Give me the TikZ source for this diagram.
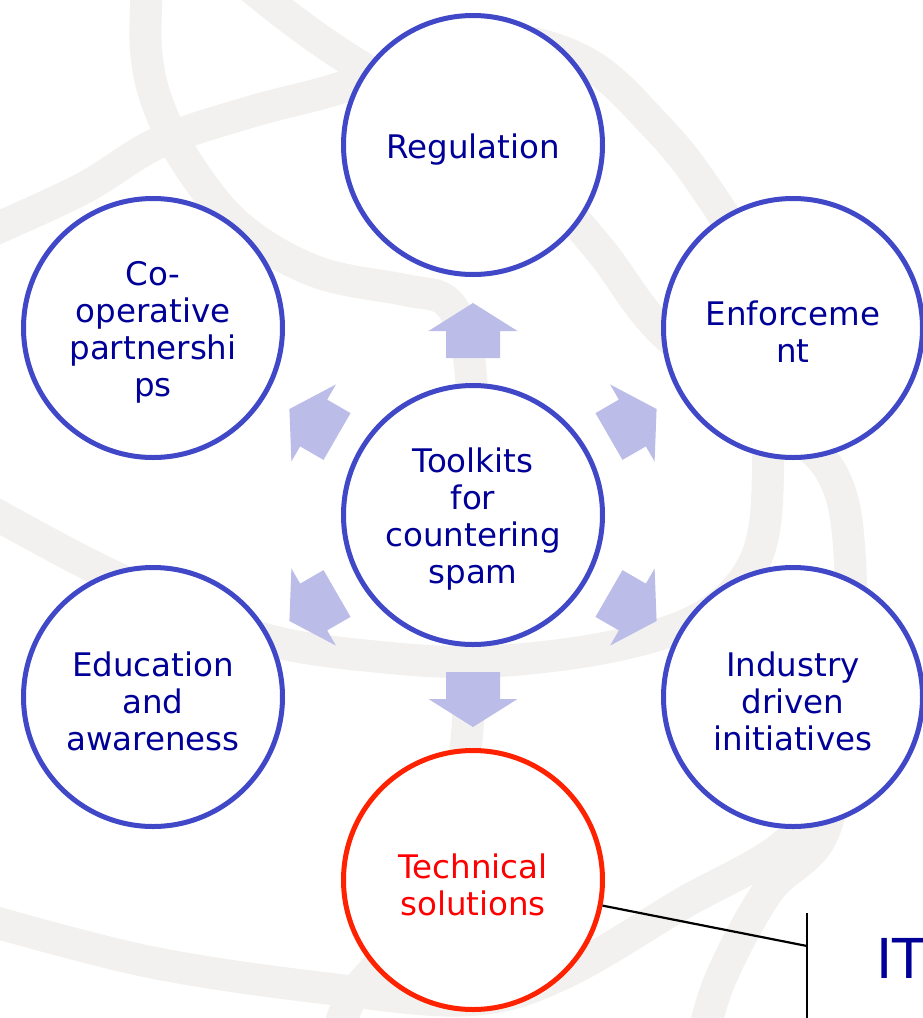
\documentclass[tikz,border=0pt]{standalone}
\usepackage{fontspec}
\setmainfont{DejaVu Sans}
\usetikzlibrary{calc}
\definecolor{ringblue}{RGB}{64,72,200}
\definecolor{txtblue}{RGB}{0,0,153}
\definecolor{ringred}{RGB}{255,34,0}
\definecolor{txtred}{RGB}{255,0,0}
\definecolor{arrowfill}{RGB}{187,189,232}
\definecolor{bandgrey}{RGB}{242,241,239}
\begin{document}
\begin{tikzpicture}[x=1pt,y=-1pt,
  topic/.style={circle, draw=ringblue, line width=5pt, fill=white, minimum size=259pt, inner sep=0pt},
  hot/.style={topic, draw=ringred},
  tlabel/.style={text=txtblue, align=center, inner sep=0pt, font=\fontsize{32.5}{37}\selectfont},
  hotlabel/.style={tlabel, text=txtred},
  band/.style={draw=bandgrey, line width=32pt},
  blockarrow/.style={fill=arrowfill},
  link/.style={draw=black, line width=2.2pt}]
\useasboundingbox (0,0) rectangle (923,1018);
\fill[white] (0,0) rectangle (923,1018);
% background watermark bands
\draw[band] plot[smooth, tension=0.6] coordinates {(148,-30) (146,50) (160,110) (193,172) (243,230) (317,272) (405,290) (445,300) (464,335) (472,390) (476,520) (470,670) (464,760) (440,870) (395,945) (350,1000) (335,1050)};
\draw[band] plot[smooth, tension=0.6] coordinates {(-30,240) (80,190) (158,143) (250,112) (340,88) (430,55) (510,40) (590,65) (655,125) (700,180) (740,250) (765,360) (768,470) (762,540) (740,585) (700,618) (640,640) (560,655) (470,662) (380,657) (280,643) (200,615) (90,565) (-30,500)};
\draw[band] plot[smooth, tension=0.6] coordinates {(230,-30) (290,18) (350,60) (450,120) (540,185) (600,250) (661,330) (760,410) (830,470) (850,560) (845,700) (824,831) (768,891) (720,980) (700,1050)};
\draw[band] plot[smooth, tension=0.6] coordinates {(-30,915) (150,962) (340,990) (470,1000) (560,975) (680,905) (794,835) (800,750)};
% circles
\node[topic] (ctr) at (473,515) {};
\node[topic] (reg) at (473,145) {};
\node[topic] (coop) at (153,328) {};
\node[topic] (enf) at (793,328) {};
\node[topic] (edu) at (153,697) {};
\node[topic] (ind) at (793,697) {};
\node[hot] (tech) at (473,880) {};
% texts
\node[tlabel] (ctr-t) at ($(ctr)+(0,4)$) {Toolkits\\for\\countering\\spam};
\node[tlabel] (reg-t) at ($(reg)+(0,5)$) {Regulation};
\node[tlabel] (coop-t) at ($(coop)+(0,4)$) {Co-\\operative\\partnershi\\ps};
\node[tlabel] (enf-t) at ($(enf)+(0,4)$) {Enforceme\\nt};
\node[tlabel] (edu-t) at ($(edu)+(0,4)$) {Education\\and\\awareness};
\node[tlabel] (ind-t) at ($(ind)+(0,4)$) {Industry\\driven\\initiatives};
\node[hotlabel] (tech-t) at ($(tech)+(0,5)$) {Technical\\solutions};
% block arrows
\foreach \a in {90,30,-30,-90,-150,150}{
  \fill[blockarrow] ($(ctr)+(\a:157)+(\a+90:27)$) -- ($(ctr)+(\a:184)+(\a+90:27)$) -- ($(ctr)+(\a:184)+(\a+90:44.5)$) -- ($(ctr)+(\a:212)$) -- ($(ctr)+(\a:184)+(\a-90:44.5)$) -- ($(ctr)+(\a:184)+(\a-90:27)$) -- ($(ctr)+(\a:157)+(\a-90:27)$) -- cycle;
}
% connector
\coordinate (brk) at (807,946);
\coordinate (vtop) at (807,913);
\coordinate (vbot) at (807,1030);
\draw[link] (tech) -- (brk);
\draw[link] (vtop) -- (vbot);
\node[anchor=base west, text=txtblue, font=\fontsize{55}{60}\selectfont, inner sep=0pt] (it) at (876,978) {IT};
\end{tikzpicture}
\end{document}
